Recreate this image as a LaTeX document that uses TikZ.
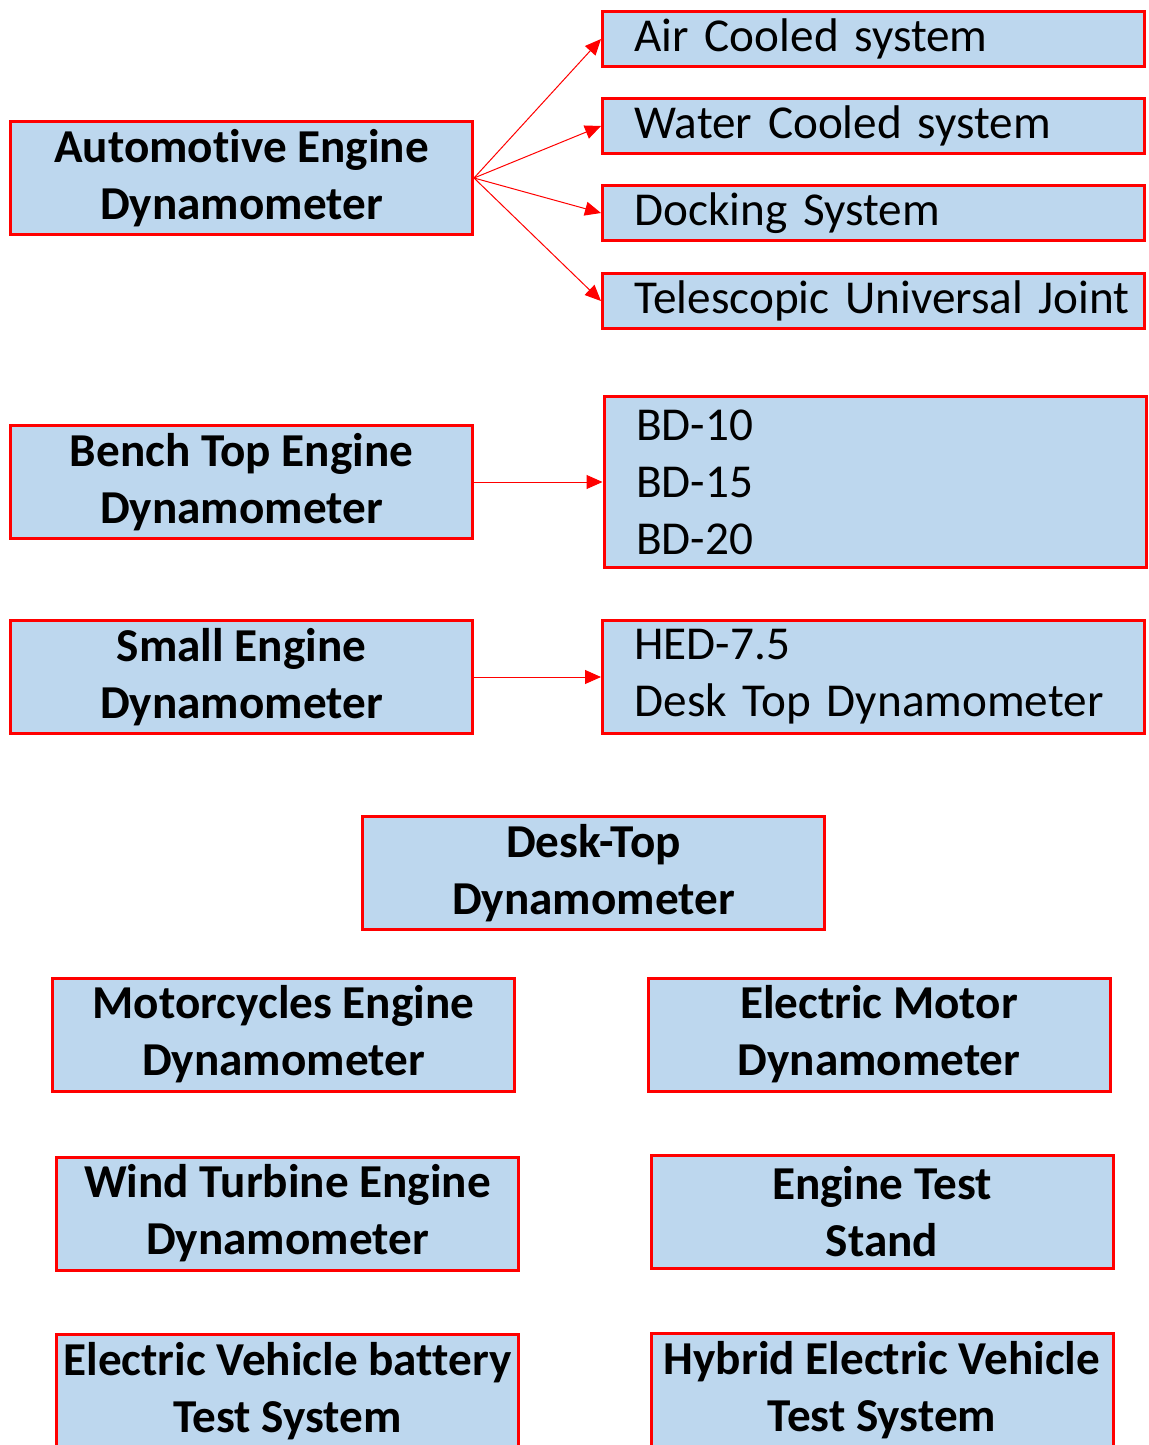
\documentclass[tikz,border=0pt]{standalone}
\usepackage{fontspec}
\setmainfont{Carlito}[Ligatures={NoCommon}]
\usetikzlibrary{arrows.meta}

\begin{document}
\begin{tikzpicture}[x=0.5pt, y=-0.5pt]
    % Define colours and styles for boxes and links
    \definecolor{boxblue}{RGB}{189,215,238}
    \tikzset{
        dynobox/.style={draw=red, fill=boxblue, line width=1.5pt, align=center, inner sep=1pt,
            minimum width=231pt, minimum height=56.5pt, font=\fontsize{23.6}{28.5}\selectfont\bfseries},
        listbox/.style={draw=red, fill=boxblue, line width=1.5pt, align=left, text width=263pt,
            inner xsep=4pt, inner ysep=0pt, minimum height=27.5pt,
            execute at begin node={\leftskip=12pt}, font=\fontsize{23.6}{28.5}\selectfont},
        link/.style={draw=red, line width=0.5pt, -{Triangle[length=8pt,width=7pt]}}
    }
    \useasboundingbox (0,0) rectangle (1149,1445);

    % ==========================================
    % TOP ROWS: dynamometers and their options
    % ==========================================
    \node[dynobox] (autodyn) at (241.5,178) {Automotive Engine\\Dynamometer};
    \node[listbox] (aircool) at (873.5,39) {Air Cooled system};
    \node[listbox] (watercool) at (873.5,126) {Water Cooled system};
    \node[listbox] (docking) at (873.5,213) {Docking System};
    \node[listbox] (telejoint) at (873.5,301) {Telescopic Universal Joint};
    \foreach \opt in {aircool, watercool, docking, telejoint} {
        \draw[link] (autodyn.east) -- (\opt.west);
    }

    \node[dynobox] (benchdyn) at (241.5,482) {Bench Top Engine\\Dynamometer};
    \node[listbox, minimum height=85.5pt] (benchlist) at (875,482) {BD-10\\BD-15\\BD-20};
    \draw[link] (benchdyn.east) -- (benchlist.west);

    \node[dynobox] (smalldyn) at (241.5,677) {Small Engine\\Dynamometer};
    \node[listbox, minimum height=56.5pt] (smalllist) at (873.5,677) {HED-7.5\\Desk Top Dynamometer};
    \draw[link] (smalldyn.east) -- (smalllist.west);

    % ==========================================
    % LOWER ROWS: stand-alone boxes
    % ==========================================
    \node[dynobox] (desktop) at (593.5,873) {Desk-Top\\Dynamometer};
    \node[dynobox] (motorcycle) at (283.5,1034.5) {Motorcycles Engine\\Dynamometer};
    \node[dynobox] (elecmotor) at (879,1034.5) {Electric Motor\\Dynamometer};
    \node[dynobox] (windturbine) at (287.5,1213.5) {Wind Turbine Engine\\Dynamometer};
    \node[dynobox] (teststand) at (882,1211.5) {Engine Test\\Stand};
    \node[dynobox] (evbattery) at (287.5,1391) {Electric Vehicle battery\\Test System};
    \node[dynobox] (hybrid) at (882,1390) {Hybrid Electric Vehicle\\Test System};
\end{tikzpicture}
\end{document}
